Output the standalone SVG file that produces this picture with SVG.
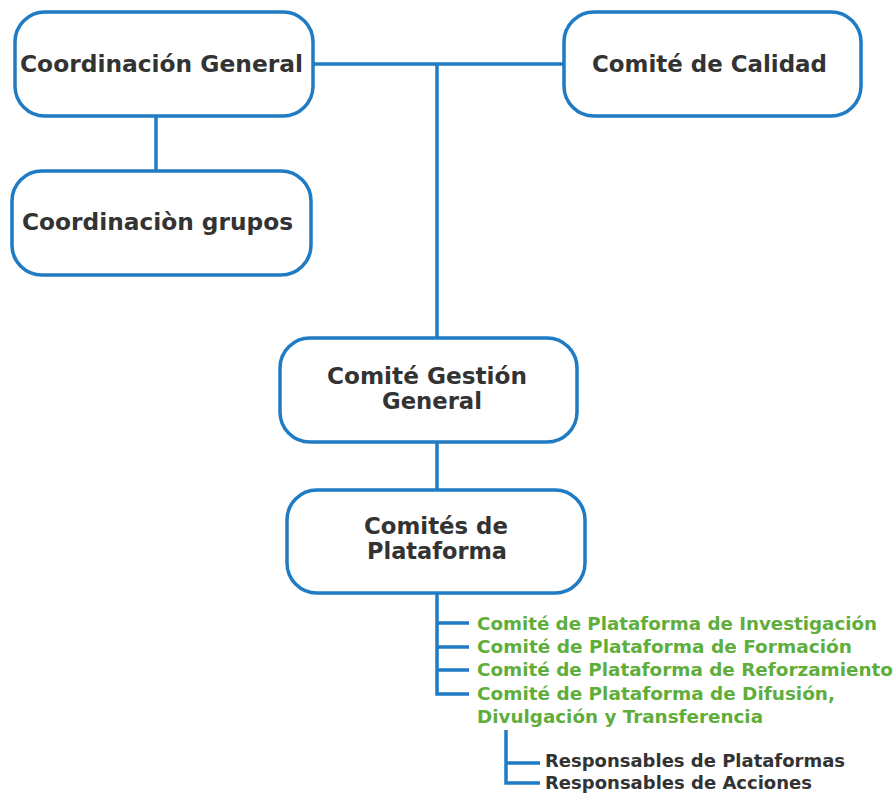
<svg xmlns="http://www.w3.org/2000/svg" width="896" height="793" viewBox="0 0 896 793">
<style>
.box{fill:#fff;stroke:#1f7cc4;stroke-width:3.5}
.ln{fill:none;stroke:#1f7cc4;stroke-width:3.5}
.t{font-family:"DejaVu Sans",Verdana,sans-serif;font-weight:bold;font-size:22.5px;fill:#333}
.g{font-family:"DejaVu Sans",Verdana,sans-serif;font-weight:bold;font-size:17.5px;fill:#5fae3c}
.s{font-family:"DejaVu Sans",Verdana,sans-serif;font-weight:bold;font-size:17.5px;fill:#333}
</style>
<rect width="896" height="793" fill="#fff"/>
<g id="connectors">
<path class="ln" d="M313 64H563"/>
<path class="ln" d="M437 64V338"/>
<path class="ln" d="M156 116V171"/>
<path class="ln" d="M437 442V490"/>
<path class="ln" d="M437 593V694H469M437 623H469M437 647H469M437 670H469"/>
<path class="ln" d="M506 730V783H540M506 763H540"/>
</g>
<g id="coordinacion-general">
<rect class="box" x="15" y="12" width="298" height="104" rx="30"/>
<text class="t" x="20" y="72" textLength="283" lengthAdjust="spacingAndGlyphs">Coordinación General</text>
</g>
<g id="comite-calidad">
<rect class="box" x="564" y="12" width="297" height="104" rx="30"/>
<text class="t" x="592" y="72" textLength="235" lengthAdjust="spacingAndGlyphs">Comité de Calidad</text>
</g>
<g id="coordinacion-grupos">
<rect class="box" x="12" y="171" width="299" height="104" rx="30"/>
<text class="t" x="22" y="230" textLength="271" lengthAdjust="spacingAndGlyphs">Coordinaciòn grupos</text>
</g>
<g id="comite-gestion">
<rect class="box" x="280" y="338" width="297" height="104" rx="30"/>
<text class="t" x="327" y="384" textLength="200" lengthAdjust="spacingAndGlyphs">Comité Gestión</text>
<text class="t" x="382" y="409" textLength="100" lengthAdjust="spacingAndGlyphs">General</text>
</g>
<g id="comites-plataforma">
<rect class="box" x="287" y="490" width="298" height="103" rx="30"/>
<text class="t" x="364" y="534" textLength="144" lengthAdjust="spacingAndGlyphs">Comités de</text>
<text class="t" x="367" y="559" textLength="140" lengthAdjust="spacingAndGlyphs">Plataforma</text>
</g>
<g id="plataformas">
<text class="g" x="477" y="630" textLength="400" lengthAdjust="spacingAndGlyphs">Comité de Plataforma de Investigación</text>
<text class="g" x="477" y="653" textLength="375" lengthAdjust="spacingAndGlyphs">Comité de Plataforma de Formación</text>
<text class="g" x="477" y="676" textLength="416" lengthAdjust="spacingAndGlyphs">Comité de Plataforma de Reforzamiento</text>
<text class="g" x="477" y="700" textLength="358" lengthAdjust="spacingAndGlyphs">Comité de Plataforma de Difusión,</text>
<text class="g" x="477" y="723" textLength="286" lengthAdjust="spacingAndGlyphs">Divulgación y Transferencia</text>
</g>
<g id="responsables">
<text class="s" x="545" y="767" textLength="300" lengthAdjust="spacingAndGlyphs">Responsables de Plataformas</text>
<text class="s" x="545" y="789" textLength="267" lengthAdjust="spacingAndGlyphs">Responsables de Acciones</text>
</g>
</svg>
